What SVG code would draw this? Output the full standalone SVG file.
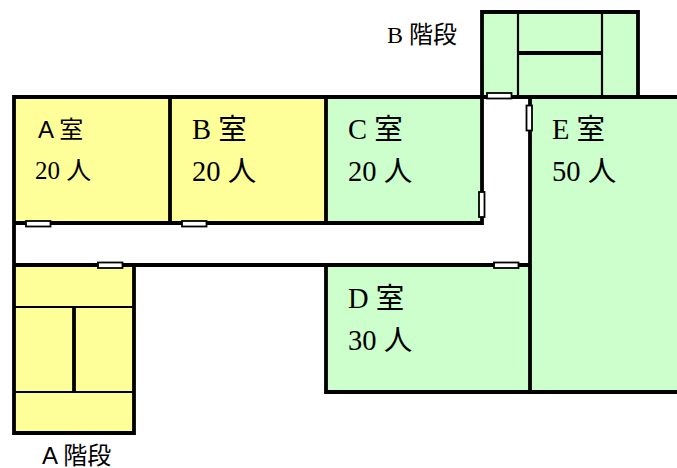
<svg xmlns="http://www.w3.org/2000/svg" width="677" height="468" viewBox="0 0 677 468">
<style>
.w{stroke:#000;stroke-width:3.8;fill:none}
.t{stroke:#000;stroke-width:2.200;fill:none}
.y{fill:#ffff99}
.g{fill:#ccffcc}
.d{fill:#fff;stroke:#000;stroke-width:1.800}
text{fill:#000;font-size:28.500px;font-family:"Liberation Serif","Noto Sans CJK JP",serif}
.s{font-family:"Liberation Sans","Noto Sans CJK JP",sans-serif;font-size:24px}
.l{font-size:24px}
.n{font-size:25px}
</style>
<rect width="677" height="468" fill="#fff"/>
<g id="room-a"><rect class="y" x="14" y="97" width="156" height="126"/><text class="s" x="38" y="138">A 室</text><text class="n" x="35" y="179">20 人</text></g>
<g id="room-b"><rect class="y" x="170" y="97" width="156" height="126"/><text x="192" y="139">B 室</text><text x="192" y="181">20 人</text></g>
<g id="room-c"><rect class="g" x="326" y="97" width="156" height="126"/><text x="348" y="139">C 室</text><text x="348" y="181">20 人</text></g>
<g id="room-d"><rect class="g" x="326" y="265" width="204" height="127"/><text x="348" y="308">D 室</text><text x="348" y="350">30 人</text></g>
<g id="room-e"><rect class="g" x="530" y="97" width="147" height="295"/><text x="552" y="139">E 室</text><text x="552" y="181">50 人</text></g>
<g id="stairs-a"><rect class="y" x="14" y="265" width="120" height="168"/><text class="s" x="42" y="463.500">A 階段</text></g>
<g id="stairs-b"><rect class="g" x="482" y="12" width="156" height="84"/><text class="l" x="387" y="43">B 階段</text></g>
<g id="connectors">
<path class="w" d="M14 223V97H677M170 97V223M326 97V223M14 223H482V97M14 223V433H134V265M14 265H530M530 97V392M326 265V392H677"/>
<path class="w" d="M482 96V12H638V96"/>
<path class="t" d="M518 12V96M602 12V96M14 307H134M14 392H134"/>
<path class="w" d="M518 53H602M74 307V392"/>
</g>
<g id="doors">
<rect class="d" x="26" y="221" width="24.500" height="5.500"/>
<rect class="d" x="182" y="221" width="24.500" height="5.500"/>
<rect class="d" x="98" y="262.500" width="24.500" height="5.500"/>
<rect class="d" x="494" y="262.500" width="24.500" height="5.500"/>
<rect class="d" x="487" y="93" width="24.500" height="5.500"/>
<rect class="d" x="479" y="192" width="5.500" height="25"/>
<rect class="d" x="526.500" y="105.500" width="5.500" height="25"/>
</g>
</svg>
